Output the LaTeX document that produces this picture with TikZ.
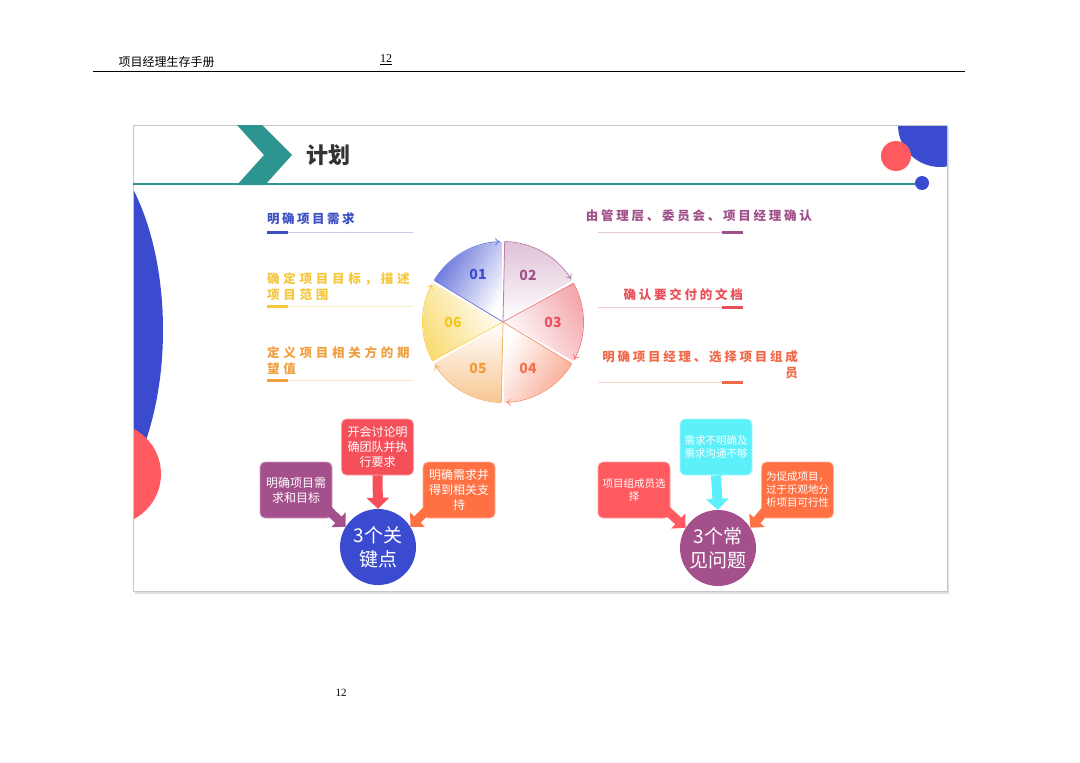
\documentclass[tikz,border=0pt]{standalone}
\usepackage{fontspec}
\setmainfont{Noto Sans CJK SC}
\newfontfamily\cjkA{Noto Sans CJK SC}[LetterSpace=20]
\newfontfamily\cjkB{Noto Sans CJK SC}[LetterSpace=30]
\newfontfamily\cjkC{Noto Sans CJK SC}[LetterSpace=22]
\newfontfamily\tnr{Liberation Serif}
\usetikzlibrary{arrows.meta,calc}
\definecolor{tealc}{HTML}{2E9490}
\definecolor{blu}{HTML}{3B4BD0}
\definecolor{redc}{HTML}{FF5A5F}
\definecolor{purp}{HTML}{A4508C}
\definecolor{yel}{HTML}{F5C518}
\definecolor{orn}{HTML}{F29A3A}
\definecolor{red2}{HTML}{E8505A}
\definecolor{orn2}{HTML}{F5704A}
\definecolor{cyan2}{HTML}{5CF0FA}
\definecolor{boxred}{HTML}{F5505A}
\definecolor{boxorn}{HTML}{FF7043}
\definecolor{darkg}{HTML}{333333}
\definecolor{tblue}{HTML}{3D4FC4}
\definecolor{tyel}{HTML}{F5C83A}
\definecolor{torn}{HTML}{F0A040}
\definecolor{tpurp}{HTML}{A0508A}
\definecolor{tred}{HTML}{E8505A}
\definecolor{torn2}{HTML}{F06A4A}
\tikzset{
 lblA/.style={inner sep=0pt, font=\cjkA\bfseries\fontsize{12.5}{15.5}\selectfont},
 lblB/.style={inner sep=0pt, align=left, font=\cjkB\bfseries\fontsize{12.5}{15.5}\selectfont},
 lblC/.style={inner sep=0pt, font=\cjkC\bfseries\fontsize{12.5}{15.5}\selectfont},
 box/.style={rounded corners=5pt, minimum width=72pt, minimum height=56pt, inner sep=2pt,
   text=white, align=center, draw=white!45!#1, fill=#1, line width=0.8pt},
 hub/.style={circle, minimum size=76pt, inner sep=0pt, fill=#1, text=white, align=center,
   font=\fontsize{19}{24}\selectfont},
 barrow/.style={line width=10pt, draw=#1, -{Triangle[length=11pt,width=22pt]}},
 num/.style={font=\bfseries\fontsize{14}{14}\selectfont}
}
\begin{document}
\begin{tikzpicture}[x=1pt,y=-1pt]
\useasboundingbox (0,0) rectangle (1080,763);
\fill[white] (0,0) rectangle (1080,763);
% page header / footer
\node[anchor=west, font=\fontsize{12}{12}\selectfont] (hd) at (115,62) {项目经理生存手册};
\node[font=\tnr\fontsize{12}{12}\selectfont] (pg) at (386,60) {\underline{12}};
\draw[line width=0.8pt] (93,71) -- (965,71);
\node[font=\tnr\fontsize{11}{11}\selectfont] (ft) at (341,693) {12};
% slide
\fill[black!12] (135,127) rectangle (949,594);
\fill[white] (133,125) rectangle (947,591);
\begin{scope}
\clip (133,125) rectangle (947,591);
\fill[blu] (60,330) ellipse [x radius=103, y radius=200];
\fill[redc] (110,474) circle [radius=51];
\fill[blu] (940,125) circle [radius=42];
\fill[redc] (896,156) circle [radius=15];
\end{scope}
\draw[black!22, line width=0.8pt] (133,125) rectangle (947,591);
% title bar
\fill[tealc] (237,125) -- (262,125) -- (292,155) -- (265,185) -- (237,185) -- (264,155) -- cycle;
\draw[tealc, line width=1.8pt] (133,184) -- (916,184);
\fill[blu] (922,183) circle [radius=7];
\node[font=\bfseries\fontsize{22}{22}\selectfont, text=darkg] (title) at (328,155) {计划};
% left labels
\node[lblA, text=tblue, anchor=west] (t1) at (267,219) {明确项目需求};
\fill[tblue] (267,230.5) rectangle (288,233.5);
\draw[tblue!30, line width=0.6pt] (288,232) -- (413,232);
\node[lblB, text=tyel, anchor=north west] (t2) at (267,272.5) {确定项目目标，描述\\项目范围};
\fill[tyel] (267,304.5) rectangle (288,307.5);
\draw[tyel!30, line width=0.6pt] (288,306) -- (413,306);
\node[lblB, text=torn, anchor=north west] (t3) at (267,346.5) {定义项目相关方的期\\望值};
\fill[torn] (267,378.5) rectangle (288,381.5);
\draw[torn!30, line width=0.6pt] (288,380) -- (413,380);
% right labels
\node[lblC, text=tpurp, anchor=east] (r1) at (812,216) {由管理层、委员会、项目经理确认};
\draw[tpurp!30, line width=0.6pt] (598,232) -- (722,232);
\fill[tpurp] (722,230.5) rectangle (743,233.5);
\node[lblC, text=tred, anchor=east] (r2) at (743,295) {确认要交付的文档};
\draw[tred!30, line width=0.6pt] (598,307) -- (722,307);
\fill[tred] (722,305.5) rectangle (743,308.5);
\node[lblC, text=torn2, anchor=north east, align=right] (r3) at (798,350.5) {明确项目经理、选择项目组成\\员};
\draw[torn2!30, line width=0.6pt] (598,382) -- (722,382);
\fill[torn2] (722,380.5) rectangle (743,383.5);
% pie
\begin{scope}[shift={(503,322)}]
\foreach \b/\c/\s/\p in {-150/blu/60/80, -90/purp/0/35, -30/red2/-60/50, 30/orn2/-120/60, 90/orn/-180/55, 150/yel/120/60}{
  \shade[top color=\c!\p!white, bottom color=white, shading angle=\s]
     (0,0) -- (\b:80) arc[start angle=\b, end angle=\b+60, radius=80] -- cycle;
}
\foreach \b in {-150,-90,-30,30,90,150}{
  \draw[white, line width=2.5pt] (0,0) -- (\b:82);
}
\foreach \b/\c in {-150/blu, -90/purp, -30/red2, 30/orn2, 90/orn, 150/yel}{
  \draw[\c!75, line width=0.8pt] (0,0) -- (\b+1.2:80);
  \draw[\c!75, line width=0.8pt, -{To[length=5pt,width=7pt]}]
     (\b+1.2:80.5) arc[start angle=\b+1.2, end angle=\b+58, radius=80.5];
}
\end{scope}
\node[num, text=blu] (n1) at (478,274) {01};
\node[num, text=purp] (n2) at (528,275) {02};
\node[num, text=red2] (n3) at (553,322) {03};
\node[num, text=orn2] (n4) at (528,368) {04};
\node[num, text=orn] (n5) at (478,368) {05};
\node[num, text=yel] (n6) at (453,322) {06};
% bottom left group
\node[box=purp, font=\fontsize{12}{15}\selectfont] (k1) at (296,490) {明确项目需\\求和目标};
\node[box=boxred, font=\fontsize{12}{15}\selectfont] (k2) at (377.5,447) {开会讨论明\\确团队并执\\行要求};
\node[box=boxorn, font=\fontsize{12}{15}\selectfont] (k3) at (459,490) {明确需求并\\得到相关支\\持};
\node[hub=blu] (kc) at (378,547) {3个关\\键点};
\draw[barrow=boxred] (k2.south) -- (kc.north);
\draw[barrow=purp, line width=9pt, -{Triangle[length=10pt,width=20pt]}] ($(k1.south east)+(-8,-12)$) -- (kc.148);
\draw[barrow=boxorn, line width=9pt, -{Triangle[length=10pt,width=20pt]}] ($(k3.south west)+(8,-12)$) -- (kc.32);
% bottom right group
\node[box=redc, font=\fontsize{10.5}{12.5}\selectfont] (w1) at (634,490) {项目组成员选\\择};
\node[box=cyan2, font=\fontsize{10.5}{12.5}\selectfont] (w2) at (716,447) {需求不明确及\\需求沟通不够};
\node[box=boxorn, font=\fontsize{10.5}{13}\selectfont] (w3) at (797.5,490) {为促成项目，\\过于乐观地分\\析项目可行性};
\node[hub=purp] (wc) at (718,548) {3个常\\见问题};
\draw[barrow=cyan2] (w2.south) -- (wc.north);
\draw[barrow=redc, line width=9pt, -{Triangle[length=10pt,width=20pt]}] ($(w1.south east)+(-8,-12)$) -- (wc.148);
\draw[barrow=boxorn, line width=9pt, -{Triangle[length=10pt,width=20pt]}] ($(w3.south west)+(8,-12)$) -- (wc.32);
\end{tikzpicture}
\end{document}
